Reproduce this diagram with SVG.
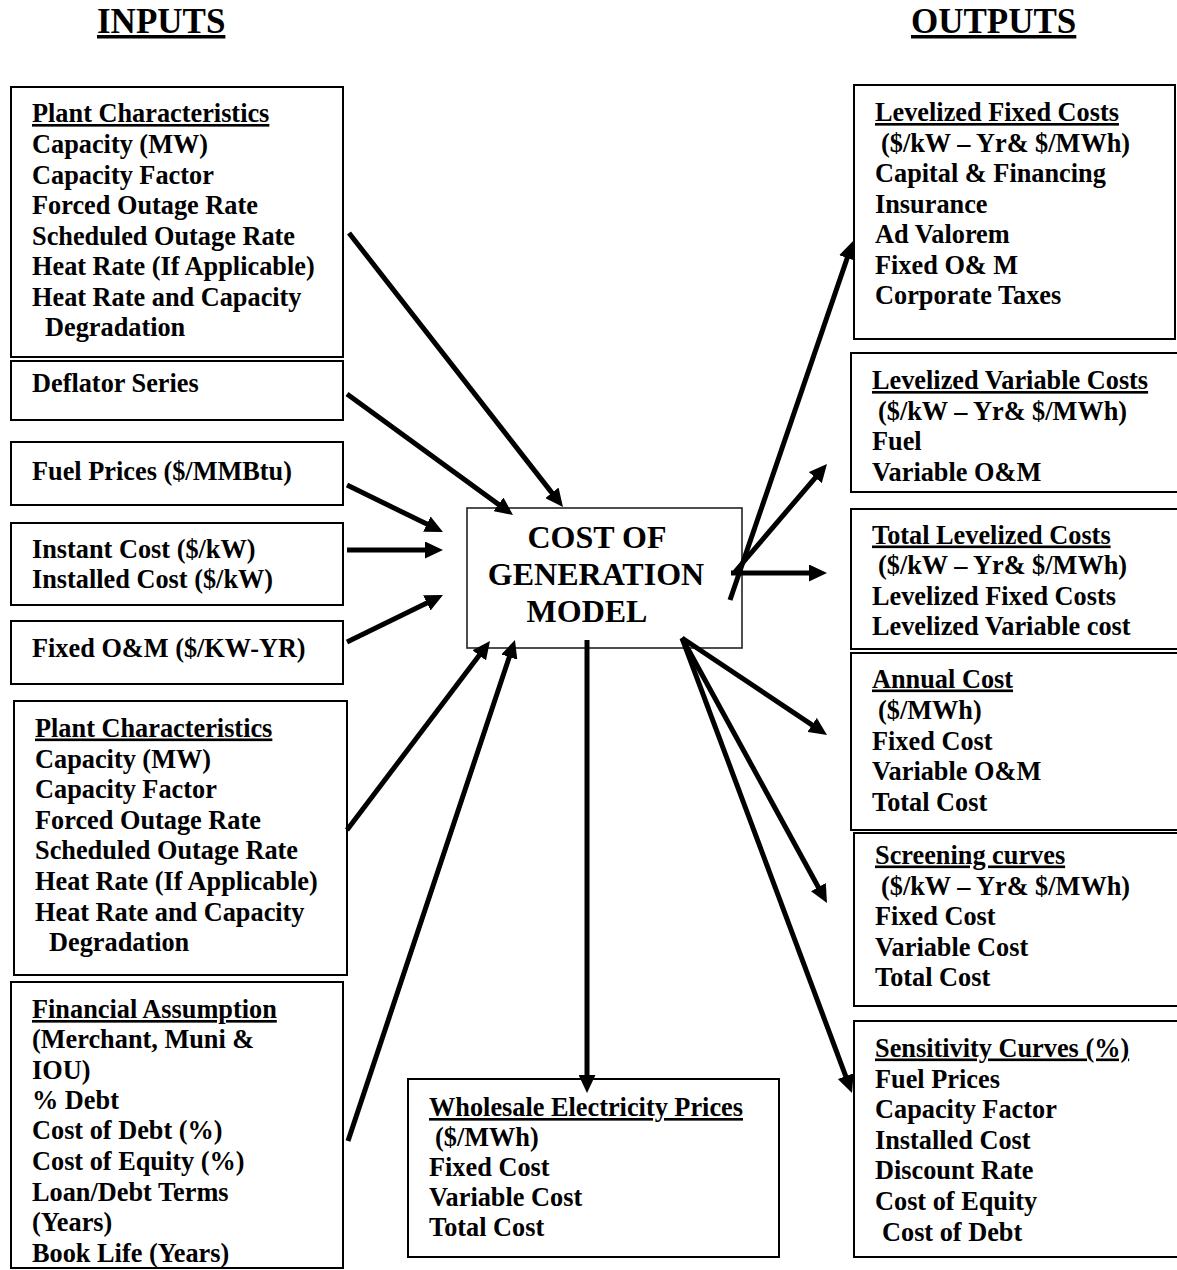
<svg xmlns="http://www.w3.org/2000/svg" width="1177" height="1270" viewBox="0 0 1177 1270">
<style>
.bg{fill:#fff}
.box{fill:#fff;stroke:#000;stroke-width:2}
.cbox{fill:#fff;stroke:#222;stroke-width:1.6}
.t{font-family:"Liberation Serif","Times New Roman",serif;font-weight:bold;font-size:26.3px;fill:#000}
.u{text-decoration:underline}
.h{font-family:"Liberation Serif","Times New Roman",serif;font-weight:bold;font-size:35px;fill:#000;text-decoration:underline}
.c{font-family:"Liberation Serif","Times New Roman",serif;font-weight:bold;font-size:32px;fill:#000;text-anchor:middle}
.a{fill:none;stroke:#000;stroke-width:5;marker-end:url(#ah)}
</style>
<defs>
<marker id="ah" viewBox="0 0 18 17" refX="8" refY="8.5" markerWidth="18" markerHeight="17" markerUnits="userSpaceOnUse" orient="auto">
<path d="M0,0 L18,8.5 L0,17 z" fill="#000"/>
</marker>
</defs>
<rect class="bg" x="0" y="0" width="1177" height="1270"/>

<g id="headers">
<text class="h" x="97" y="33">INPUTS</text>
<text class="h" x="911" y="33">OUTPUTS</text>
</g>

<g id="plant1">
<rect class="box" x="11" y="87" width="332" height="270"/>
<text class="t u" x="32" y="122">Plant Characteristics</text>
<text class="t" x="32" y="153">Capacity (MW)</text>
<text class="t" x="32" y="183.5">Capacity Factor</text>
<text class="t" x="32" y="214">Forced Outage Rate</text>
<text class="t" x="32" y="244.5">Scheduled Outage Rate</text>
<text class="t" x="32" y="275">Heat Rate (If Applicable)</text>
<text class="t" x="32" y="305.5">Heat Rate and Capacity</text>
<text class="t" x="45" y="336">Degradation</text>
</g>

<g id="deflator">
<rect class="box" x="11" y="361" width="332" height="59"/>
<text class="t" x="32" y="392">Deflator Series</text>
</g>

<g id="fuel">
<rect class="box" x="11" y="442" width="332" height="63"/>
<text class="t" x="32" y="479.5">Fuel Prices ($/MMBtu)</text>
</g>

<g id="instant">
<rect class="box" x="11" y="523" width="332" height="82"/>
<text class="t" x="32" y="558">Instant Cost ($/kW)</text>
<text class="t" x="32" y="588">Installed Cost ($/kW)</text>
</g>

<g id="fixedom">
<rect class="box" x="11" y="621" width="332" height="63"/>
<text class="t" x="32" y="657">Fixed O&amp;M ($/KW-YR)</text>
</g>

<g id="plant2">
<rect class="box" x="14" y="701" width="333" height="274"/>
<text class="t u" x="35" y="736.5">Plant Characteristics</text>
<text class="t" x="35" y="767.5">Capacity (MW)</text>
<text class="t" x="35" y="798">Capacity Factor</text>
<text class="t" x="35" y="828.5">Forced Outage Rate</text>
<text class="t" x="35" y="859">Scheduled Outage Rate</text>
<text class="t" x="35" y="890">Heat Rate (If Applicable)</text>
<text class="t" x="35" y="920.5">Heat Rate and Capacity</text>
<text class="t" x="49" y="951">Degradation</text>
</g>

<g id="financial">
<rect class="box" x="11" y="982" width="332" height="286"/>
<text class="t u" x="32" y="1018">Financial Assumption</text>
<text class="t" x="32" y="1048">(Merchant, Muni &amp;</text>
<text class="t" x="32" y="1078.5">IOU)</text>
<text class="t" x="32" y="1109">% Debt</text>
<text class="t" x="32" y="1139">Cost of Debt (%)</text>
<text class="t" x="32" y="1170">Cost of Equity (%)</text>
<text class="t" x="32" y="1200.5">Loan/Debt Terms</text>
<text class="t" x="32" y="1231">(Years)</text>
<text class="t" x="32" y="1262">Book Life (Years)</text>
</g>

<g id="model">
<rect class="cbox" x="467" y="508" width="275" height="140"/>
<text class="c" x="597" y="548">COST OF</text>
<text class="c" x="596" y="585">GENERATION</text>
<text class="c" x="587" y="622">MODEL</text>
</g>

<g id="lfc">
<rect class="box" x="854" y="85" width="321" height="254"/>
<text class="t u" x="875" y="121">Levelized Fixed Costs</text>
<text class="t" x="881" y="151.5">($/kW – Yr&amp; $/MWh)</text>
<text class="t" x="875" y="182">Capital &amp; Financing</text>
<text class="t" x="875" y="212.5">Insurance</text>
<text class="t" x="875" y="243">Ad Valorem</text>
<text class="t" x="875" y="273.5">Fixed O&amp; M</text>
<text class="t" x="875" y="304">Corporate Taxes</text>
</g>

<g id="lvc">
<rect class="box" x="851" y="353" width="330" height="139"/>
<text class="t u" x="872" y="389">Levelized Variable Costs</text>
<text class="t" x="878" y="419.5">($/kW – Yr&amp; $/MWh)</text>
<text class="t" x="872" y="450">Fuel</text>
<text class="t" x="872" y="480.5">Variable O&amp;M</text>
</g>

<g id="tlc">
<rect class="box" x="851" y="509" width="330" height="140"/>
<text class="t u" x="872" y="543.5">Total Levelized Costs</text>
<text class="t" x="878" y="574">($/kW – Yr&amp; $/MWh)</text>
<text class="t" x="872" y="605">Levelized Fixed Costs</text>
<text class="t" x="872" y="635">Levelized Variable cost</text>
</g>

<g id="annual">
<rect class="box" x="851" y="653" width="330" height="177"/>
<text class="t u" x="872" y="687.5">Annual Cost</text>
<text class="t" x="878" y="719">($/MWh)</text>
<text class="t" x="872" y="749.5">Fixed Cost</text>
<text class="t" x="872" y="780">Variable O&amp;M</text>
<text class="t" x="872" y="810.5">Total Cost</text>
</g>

<g id="screening">
<rect class="box" x="854" y="833" width="327" height="173"/>
<text class="t u" x="875" y="863.5">Screening curves</text>
<text class="t" x="881" y="894.5">($/kW – Yr&amp; $/MWh)</text>
<text class="t" x="875" y="925">Fixed Cost</text>
<text class="t" x="875" y="955.5">Variable Cost</text>
<text class="t" x="875" y="986">Total Cost</text>
</g>

<g id="sensitivity">
<rect class="box" x="854" y="1021" width="327" height="236"/>
<text class="t u" x="875" y="1056.5">Sensitivity Curves (%)</text>
<text class="t" x="875" y="1087.5">Fuel Prices</text>
<text class="t" x="875" y="1118">Capacity Factor</text>
<text class="t" x="875" y="1148.5">Installed Cost</text>
<text class="t" x="875" y="1179">Discount Rate</text>
<text class="t" x="875" y="1210">Cost of Equity</text>
<text class="t" x="882" y="1240.5">Cost of Debt</text>
</g>

<g id="wholesale">
<rect class="box" x="408" y="1079" width="371" height="178"/>
<text class="t u" x="429" y="1116">Wholesale Electricity Prices</text>
<text class="t" x="435" y="1146">($/MWh)</text>
<text class="t" x="429" y="1176">Fixed Cost</text>
<text class="t" x="429" y="1206">Variable Cost</text>
<text class="t" x="429" y="1236">Total Cost</text>
</g>

<g id="connectors">
<line class="a" x1="349" y1="233" x2="556.8" y2="499.1"/>
<line class="a" x1="347" y1="394" x2="504.9" y2="509.1"/>
<line class="a" x1="347" y1="485" x2="434" y2="527.6"/>
<line class="a" x1="347" y1="550" x2="433" y2="550"/>
<line class="a" x1="347" y1="642" x2="434" y2="599.4"/>
<line class="a" x1="347" y1="830" x2="484" y2="649"/>
<line class="a" x1="348" y1="1141" x2="511.8" y2="649.5"/>
<line class="a" x1="730" y1="600" x2="849.8" y2="250.5"/>
<line class="a" x1="734" y1="573" x2="820.5" y2="471.6"/>
<line class="a" x1="731" y1="573" x2="817" y2="573"/>
<line class="a" x1="682" y1="638" x2="818.7" y2="729.4"/>
<line class="a" x1="682" y1="638" x2="822.2" y2="894.2"/>
<line class="a" x1="682" y1="638" x2="848.5" y2="1083.6"/>
<line class="a" x1="587" y1="640" x2="587" y2="1083"/>
</g>
</svg>
